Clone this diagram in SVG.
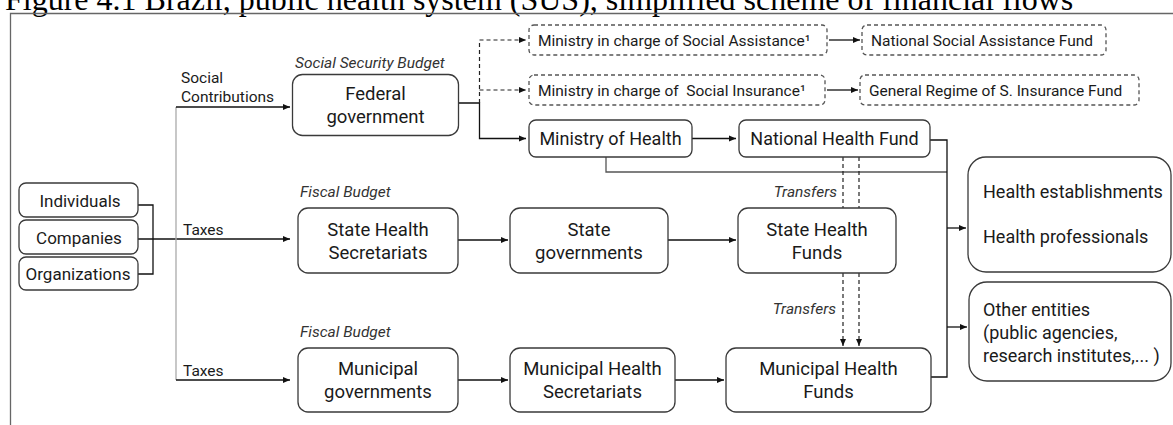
<svg xmlns="http://www.w3.org/2000/svg" width="1173" height="425" viewBox="0 0 1173 425">
<defs>
<marker id="a" viewBox="0 0 8 8" refX="8" refY="4" markerWidth="7" markerHeight="7" orient="auto" markerUnits="userSpaceOnUse"><path d="M0,0.6 L8,4 L0,7.4 z" fill="#111"/></marker>
<style>
.box{fill:#fff;stroke:#3a3a3a;stroke-width:1.3}
.dbox{fill:#fff;stroke:#555;stroke-width:1.3;stroke-dasharray:4 3}
.t{font-family:Roboto,"Liberation Sans",sans-serif;fill:#1a1a1a}
.b{font-size:18.5px;text-anchor:middle}
.m{font-size:18px}
.c{text-anchor:middle}
.s{font-size:15.5px}
.l{font-size:17px;text-anchor:middle}
.it{font-style:italic;font-size:15.5px;fill:#333}
.ln{fill:none;stroke:#111;stroke-width:1.3}
.dl{fill:none;stroke:#222;stroke-width:1.2;stroke-dasharray:4 3}
</style>
</defs>
<text x="5" y="10" font-family="'Liberation Serif','Times New Roman',serif" font-size="32" fill="#000">Figure 4.1 Brazil, public health system (SUS), simplified scheme of financial flows</text>
<path d="M10.5,425 V13.5 H1173" fill="none" stroke="#666" stroke-width="1.3"/>

<g id="connectors">
<path class="ln" d="M138,205 H153 V274 H138"/>
<path class="ln" d="M138,239 H290" marker-end="url(#a)"/>
<path d="M176,107 V380" fill="none" stroke="#aaa" stroke-width="1.3"/>
<path class="ln" d="M176,107 H290" marker-end="url(#a)"/>
<path class="ln" d="M176,380 H290" marker-end="url(#a)"/>
<path class="ln" d="M459,103 H479.5 V138.5 H526" stroke-width="2" marker-end="url(#a)"/>
<path class="dl" d="M479.5,103 V40 H526" marker-end="url(#a)"/>
<path class="dl" d="M479.5,90 H526" marker-end="url(#a)"/>
<path class="ln" d="M829,40 H860" marker-end="url(#a)"/>
<path class="ln" d="M827,90 H858" marker-end="url(#a)"/>
<path class="ln" d="M692,138.5 H736" marker-end="url(#a)"/>
<path d="M606,157 V172 H947" fill="none" stroke="#555" stroke-width="1.3"/>
<path class="ln" d="M930,140 H947 V377 H931"/>
<path class="ln" d="M947,228 H966" marker-end="url(#a)"/>
<path class="ln" d="M947,327 H967" marker-end="url(#a)"/>
<path class="ln" d="M458,240 H508" marker-end="url(#a)"/>
<path class="ln" d="M668,240 H736" marker-end="url(#a)"/>
<path class="ln" d="M458,380 H508" marker-end="url(#a)"/>
<path class="ln" d="M675,380 H724" marker-end="url(#a)"/>
<path class="dl" d="M843,157 V208 M859,157 V208"/>
<path class="dl" d="M843,273 V346" marker-end="url(#a)"/>
<path class="dl" d="M859,273 V346" marker-end="url(#a)"/>
<text class="t s" x="181" y="83">Social</text>
<text class="t s" x="181" y="102">Contributions</text>
<text class="t s" x="183" y="235">Taxes</text>
<text class="t s" x="183" y="376">Taxes</text>
<text class="t it" x="295" y="68">Social Security Budget</text>
<text class="t it" x="300" y="197">Fiscal Budget</text>
<text class="t it" x="300" y="337">Fiscal Budget</text>
<text class="t it" x="837" y="197" text-anchor="end">Transfers</text>
<text class="t it" x="836" y="314" text-anchor="end">Transfers</text>
</g>

<g id="individuals"><rect class="box" x="19" y="183" width="119" height="34" rx="7"/><text class="t l" x="80" y="207">Individuals</text></g>
<g id="companies"><rect class="box" x="19" y="220" width="119" height="34" rx="7"/><text class="t l" x="79" y="244">Companies</text></g>
<g id="organizations"><rect class="box" x="19" y="257" width="119" height="33" rx="7"/><text class="t l" x="78" y="280">Organizations</text></g>

<g id="federal"><rect class="box" x="292.5" y="74.5" width="166" height="61" rx="10"/><text class="t b" x="375.5" y="100">Federal</text><text class="t b" x="375.5" y="123">government</text></g>

<g id="min-assistance"><rect class="dbox" x="529" y="25" width="298" height="30" rx="5"/><text class="t s" x="538" y="45.5">Ministry in charge of Social Assistance¹</text></g>
<g id="fund-assistance"><rect class="dbox" x="862" y="25" width="244" height="30" rx="5"/><text class="t s" x="871" y="45.5">National Social Assistance Fund</text></g>
<g id="min-insurance"><rect class="dbox" x="529" y="75" width="296" height="30" rx="5"/><text class="t s" x="538" y="95.5" style="white-space:pre">Ministry in charge of  Social Insurance¹</text></g>
<g id="fund-insurance"><rect class="dbox" x="860" y="75" width="279" height="30" rx="5"/><text class="t s" x="869" y="95.5">General Regime of S. Insurance Fund</text></g>

<g id="moh"><rect class="box" x="529" y="120" width="163" height="37" rx="7"/><text class="t m c" x="610.5" y="145">Ministry of Health</text></g>
<g id="nhf"><rect class="box" x="739" y="120" width="191" height="37" rx="7"/><text class="t m c" x="834.5" y="145">National Health Fund</text></g>

<g id="state-sec"><rect class="box" x="298" y="208" width="160" height="65" rx="10"/><text class="t b" x="378" y="236">State Health</text><text class="t b" x="378" y="259">Secretariats</text></g>
<g id="state-gov"><rect class="box" x="510" y="208" width="158" height="65" rx="10"/><text class="t b" x="589" y="236">State</text><text class="t b" x="589" y="259">governments</text></g>
<g id="state-fund"><rect class="box" x="738" y="208" width="158" height="65" rx="10"/><text class="t b" x="817" y="236">State Health</text><text class="t b" x="817" y="259">Funds</text></g>

<g id="mun-gov"><rect class="box" x="298" y="348" width="160" height="64" rx="10"/><text class="t b" x="378" y="375">Municipal</text><text class="t b" x="378" y="398">governments</text></g>
<g id="mun-sec"><rect class="box" x="510" y="348" width="165" height="64" rx="10"/><text class="t b" x="592.5" y="375">Municipal Health</text><text class="t b" x="592.5" y="398">Secretariats</text></g>
<g id="mun-fund"><rect class="box" x="726" y="348" width="205" height="64" rx="10"/><text class="t b" x="828.5" y="375">Municipal Health</text><text class="t b" x="828.5" y="398">Funds</text></g>

<g id="health-est"><rect class="box" x="968" y="157" width="203" height="115" rx="18"/><text class="t m" x="983" y="198">Health establishments</text><text class="t m" x="983" y="243">Health professionals</text></g>
<g id="other"><rect class="box" x="969" y="282" width="202" height="99" rx="18"/><text class="t m" x="983" y="316">Other entities</text><text class="t m" x="983" y="339">(public agencies,</text><text class="t m" x="983" y="362">research institutes,... )</text></g>
</svg>
